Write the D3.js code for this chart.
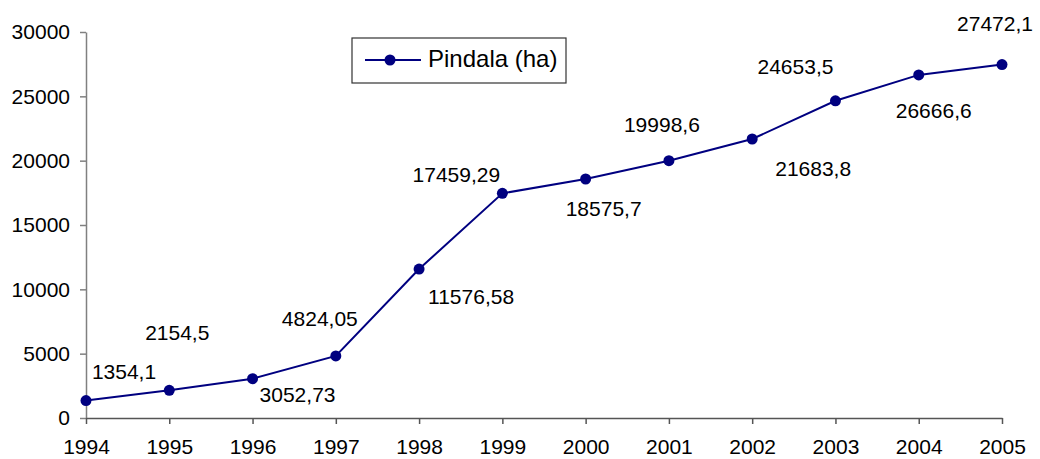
<!DOCTYPE html>
<html>
<head>
<meta charset="utf-8">
<script src="https://cdn.jsdelivr.net/npm/d3@7"></script>
<style>
  body { margin: 0; background: #fff; }
  svg { display: block; font-family: "Liberation Sans", Arial, sans-serif; }
</style>
</head>
<body>
<div id="chart"></div>
<script>
// data
const years = [1994, 1995, 1996, 1997, 1998, 1999, 2000, 2001, 2002, 2003, 2004, 2005];
const pindala = [1354.1, 2154.5, 3052.73, 4824.05, 11576.58, 17459.29, 18575.7, 19998.6, 21683.8, 24653.5, 26666.6, 27472.1];
const yTicks = [0, 5000, 10000, 15000, 20000, 25000, 30000];
const seriesName = "Pindala (ha)";

// label offsets from each point (layout only)
const labelOffsets = [
  [38, -22], [8, -50], [45, 23], [-16, -30], [52, 35], [-46, -11],
  [18, 37], [-7, -29], [61, 37], [-40, -27], [15, 43], [-7, -34]
];

const width = 1040, height = 459;
const margin = { top: 32, right: 38, bottom: 41, left: 86 };
const color = "#000080";

const svg = d3.select("#chart").append("svg")
  .attr("width", width)
  .attr("height", height);

const x = d3.scaleLinear()
  .domain([years[0], years[years.length - 1]])
  .range([margin.left, width - margin.right]);

const y = d3.scaleLinear()
  .domain([0, 30000])
  .range([height - margin.bottom, margin.top]);

// y axis
const yAxis = svg.append("g")
  .attr("transform", `translate(${margin.left},0)`)
  .call(d3.axisLeft(y).tickValues(yTicks).tickFormat(d3.format("d"))
    .tickSize(6).tickPadding(10).tickSizeOuter(0));
yAxis.select(".domain").attr("stroke", "#808080").attr("stroke-width", 1.5);
yAxis.selectAll(".tick line").attr("stroke", "#808080").attr("stroke-width", 1.5);
yAxis.selectAll(".tick text")
  .attr("font-size", 21)
  .attr("font-family", "Liberation Sans, Arial, sans-serif")
  .attr("fill", "#000");

// x axis
const xAxis = svg.append("g")
  .attr("transform", `translate(0,${y(0)})`)
  .call(d3.axisBottom(x).tickValues(years).tickFormat(d3.format("d"))
    .tickSize(6).tickPadding(15).tickSizeOuter(0));
xAxis.select(".domain").attr("stroke", "#555").attr("stroke-width", 1.5);
xAxis.selectAll(".tick line").attr("stroke", "#555").attr("stroke-width", 1.5);
xAxis.selectAll(".tick text")
  .attr("font-size", 21)
  .attr("font-family", "Liberation Sans, Arial, sans-serif")
  .attr("fill", "#000");

// line
const line = d3.line()
  .x((d, i) => x(years[i]))
  .y(d => y(d));

svg.append("path")
  .datum(pindala)
  .attr("fill", "none")
  .attr("stroke", color)
  .attr("stroke-width", 2)
  .attr("d", line);

svg.selectAll("circle.point")
  .data(pindala)
  .join("circle")
  .attr("class", "point")
  .attr("cx", (d, i) => x(years[i]))
  .attr("cy", d => y(d))
  .attr("r", 5.5)
  .attr("fill", color);

// data labels
svg.selectAll("text.label")
  .data(pindala)
  .join("text")
  .attr("class", "label")
  .attr("x", (d, i) => x(years[i]) + labelOffsets[i][0])
  .attr("y", (d, i) => y(d) + labelOffsets[i][1])
  .attr("text-anchor", "middle")
  .attr("font-size", 21)
  .attr("fill", "#000")
  .text(d => String(d).replace(".", ","));

// legend
const legend = svg.append("g").attr("transform", "translate(352,38)");
legend.append("rect")
  .attr("width", 214)
  .attr("height", 45)
  .attr("fill", "#fff")
  .attr("stroke", "#333")
  .attr("stroke-width", 1.2);
legend.append("line")
  .attr("x1", 13).attr("x2", 69)
  .attr("y1", 22).attr("y2", 22)
  .attr("stroke", color)
  .attr("stroke-width", 2);
legend.append("circle")
  .attr("cx", 38).attr("cy", 22).attr("r", 5.5)
  .attr("fill", color);
legend.append("text")
  .attr("x", 76)
  .attr("y", 29)
  .attr("font-size", 24)
  .attr("fill", "#000")
  .text(seriesName);
</script>
</body>
</html>
